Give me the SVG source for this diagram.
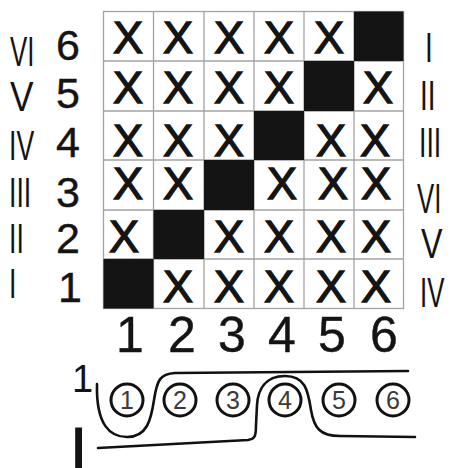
<svg xmlns="http://www.w3.org/2000/svg" width="454" height="468" viewBox="0 0 454 468">
<style>
text{font-family:"Liberation Sans",Arial,sans-serif;fill:#141414}
.x{font-size:45px;text-anchor:middle;stroke:#141414;stroke-width:1.3}
.d{font-size:43px;text-anchor:middle;stroke:#141414;stroke-width:0.4}
.r{font-size:43px}
.c{font-size:50px;text-anchor:middle;stroke:#141414;stroke-width:0.4}
.g{stroke:#a3a3a3;stroke-width:1.3;fill:none}
.b{fill:#141414}
.s{fill:none;stroke:#111;stroke-width:2.6;stroke-linecap:round}
.o{fill:none;stroke:#111;stroke-width:3}
.n{font-size:25px;text-anchor:middle;fill:#3a3a3a}
</style>
<rect width="454" height="468" fill="#fff"/>
<g id="grid">
<rect x="103.5" y="11.5" width="300" height="297" fill="#fff" class="g"/>
<path class="g" d="M153.5 11.5V308.5M204 11.5V308.5M254 11.5V308.5M304 11.5V308.5M354 11.5V308.5M103.5 61H403.5M103.5 111H403.5M103.5 160H403.5M103.5 210H403.5M103.5 259H403.5"/>
<rect class="b" x="354" y="11.5" width="49.5" height="49.5"/>
<rect class="b" x="304" y="61" width="50" height="50"/>
<rect class="b" x="254" y="111" width="50" height="49"/>
<rect class="b" x="204" y="160" width="50" height="50"/>
<rect class="b" x="153.5" y="210" width="50.5" height="49"/>
<rect class="b" x="103.5" y="259" width="50" height="49.5"/>
</g>
<g id="marks">
<text class="x" x="128" y="53">X</text><text class="x" x="178" y="53">X</text><text class="x" x="229" y="53">X</text><text class="x" x="279" y="53">X</text><text class="x" x="329" y="53">X</text>
<text class="x" x="128" y="103">X</text><text class="x" x="178" y="103">X</text><text class="x" x="229" y="103">X</text><text class="x" x="279" y="103">X</text><text class="x" x="378" y="103">X</text>
<text class="x" x="128" y="156">X</text><text class="x" x="178" y="156">X</text><text class="x" x="229" y="156">X</text><text class="x" x="331" y="156">X</text><text class="x" x="375" y="156">X</text>
<text class="x" x="128" y="199">X</text><text class="x" x="178" y="199">X</text><text class="x" x="282" y="199">X</text><text class="x" x="333" y="199">X</text><text class="x" x="376" y="199">X</text>
<text class="x" x="124" y="252">X</text><text class="x" x="229" y="252">X</text><text class="x" x="279" y="252">X</text><text class="x" x="331" y="252">X</text><text class="x" x="376" y="252">X</text>
<text class="x" x="178" y="302">X</text><text class="x" x="229" y="302">X</text><text class="x" x="279" y="302">X</text><text class="x" x="331" y="302">X</text><text class="x" x="376" y="302">X</text>
</g>
<g id="left-labels">
<text class="r" transform="translate(10 66) scale(0.6 1)">VI</text>
<text class="r" transform="translate(10 111) scale(0.82 1)">V</text>
<text class="r" transform="translate(9 160) scale(0.62 1)">IV</text>
<text class="r" transform="translate(9 207) scale(0.62 1)">III</text>
<text class="r" transform="translate(9 253) scale(0.62 1)">II</text>
<text class="r" transform="translate(9 298) scale(0.62 1)">I</text>
<text class="d" x="68" y="60">6</text>
<text class="d" x="68" y="108">5</text>
<text class="d" x="68" y="157">4</text>
<text class="d" x="68" y="207">3</text>
<text class="d" x="68" y="253">2</text>
<text class="d" x="70" y="302">1</text>
</g>
<g id="right-labels">
<text class="r" transform="translate(425 62) scale(0.65 1)">I</text>
<text class="r" transform="translate(420 110) scale(0.65 1)">II</text>
<text class="r" transform="translate(419 157) scale(0.62 1)">III</text>
<text class="r" transform="translate(417 213) scale(0.6 1)">VI</text>
<text class="r" transform="translate(421 258) scale(0.75 1)">V</text>
<text class="r" transform="translate(420 307) scale(0.6 1)">IV</text>
</g>
<g id="col-labels">
<text class="c" x="130" y="352">1</text>
<text class="c" x="182" y="352">2</text>
<text class="c" x="232" y="352">3</text>
<text class="c" x="282" y="352">4</text>
<text class="c" x="332" y="352">5</text>
<text class="c" x="384" y="352">6</text>
</g>
<g id="threads">
<circle class="o" cx="127" cy="400" r="16"/><text class="n" x="127" y="409">1</text>
<circle class="o" cx="180" cy="400" r="16"/><text class="n" x="180" y="409">2</text>
<circle class="o" cx="233" cy="400" r="16"/><text class="n" x="233" y="409">3</text>
<circle class="o" cx="285" cy="400" r="16"/><text class="n" x="285" y="409">4</text>
<circle class="o" cx="339" cy="400" r="16"/><text class="n" x="339" y="409">5</text>
<circle class="o" cx="393" cy="400" r="16"/><text class="n" x="393" y="409">6</text>
<text x="72" y="392" style="font-size:38px">1</text>
<text x="70" y="470" style="font-size:62px;stroke:#141414;stroke-width:1">I</text>
</g>
<g id="connectors">
<path class="s" d="M97 384C96 425 110 437 127 437C147 437 151 420 154 400C157 380 160 374 175 373L408 371"/>
<path class="s" d="M98 448L248 440C255 439 256 436 256 425L257 405C258 390 265 376 285 376C305 376 308 390 311 410C314 428 320 436 340 436L415 437"/>
</g>
</svg>
